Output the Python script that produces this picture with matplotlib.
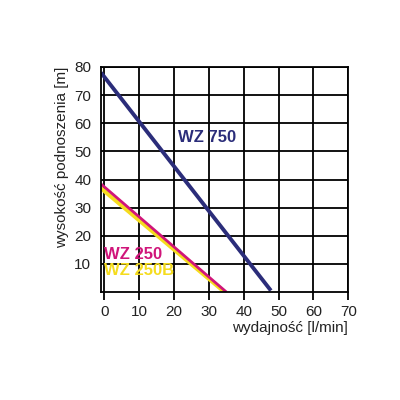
import matplotlib
matplotlib.use("Agg")
import matplotlib.pyplot as plt

plt.rcParams['font.family'] = ['Liberation Sans', 'DejaVu Sans']

wz750_x = [-1, 47.8]
wz750_y = [78, 0.5]
wz250_x = [-1, 35]
wz250_y = [38.4, 0]
wz250b_x = [-1, 34.5]
wz250b_y = [36.9, 0]
xticks = [0, 10, 20, 30, 40, 50, 60, 70]
yticks = [10, 20, 30, 40, 50, 60, 70, 80]

fig = plt.figure(figsize=(4, 4), dpi=100)
ax = fig.add_axes([0.2525, 0.27, 0.618, 0.5625])
ax.set_xlim(-1, 70)
ax.set_ylim(0, 80)
ax.set_xticks(xticks)
ax.set_yticks(yticks)
ax.grid(True, color='black', linewidth=1.3)
for s in ax.spines.values():
    s.set_linewidth(1.3)
ax.tick_params(axis='x', length=6, width=1.3, labelsize=11, pad=3, labelcolor='#222222')
ax.tick_params(axis='y', length=0, labelsize=11, pad=7, labelcolor='#222222')

ax.plot(wz250b_x, wz250b_y, color='#f5dc1e', lw=3, solid_capstyle='butt')
ax.plot(wz250_x, wz250_y, color='#d0157a', lw=2, solid_capstyle='butt')
ax.plot(wz750_x, wz750_y, color='#2b2d7a', lw=2.8, solid_capstyle='butt')

ax.text(21, 55, 'WZ 750', color='#2b2d7a', fontsize=12, fontweight='bold', va='center')
ax.text(0, 13.5, 'WZ 250', color='#d0157a', fontsize=12, fontweight='bold', va='center')
ax.text(0, 7.5, 'WZ 250B', color='#f5dc1e', fontsize=12, fontweight='bold', va='center')

ax.set_xlabel('wydajność [l/min]', fontsize=11, loc='right', labelpad=2, color='#222222')
ax.set_ylabel('wysokość podnoszenia [m]', fontsize=11, loc='top', labelpad=4, color='#222222')

fig.savefig('out.png', dpi=100)
